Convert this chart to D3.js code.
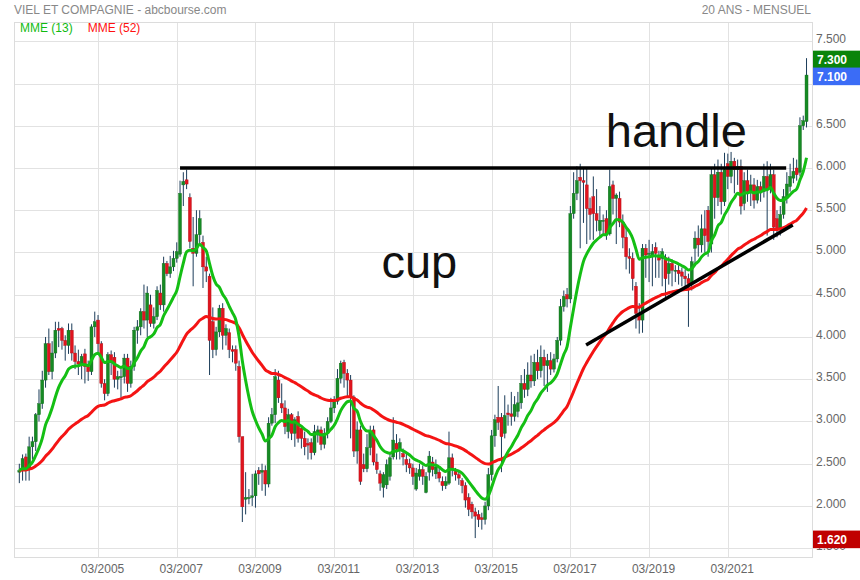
<!DOCTYPE html>
<html><head><meta charset="utf-8">
<script src="https://cdn.jsdelivr.net/npm/d3@7"></script>
<style>
body{margin:0;background:#fff}
svg{display:block}
text{font-family:"Liberation Sans",Arial,Helvetica,sans-serif}
</style>
</head><body>
<svg id="chart" width="860" height="580"></svg>
<script>
const title = "VIEL ET COMPAGNIE - abcbourse.com";
const period = "20 ANS - MENSUEL";
const firstMonth = {year: 2003, month: 3};
const xTickLabels = ["03/2005","03/2007","03/2009","03/2011","03/2013","03/2015","03/2017","03/2019","03/2021"];
const yTicks = [1.5,2,2.5,3,3.5,4,4.5,5,5.5,6,6.5,7,7.5];
const emaSeries = [{name:"MME (13)", period:13, color:"#14bf14", text:"#11bb11"},{name:"MME (52)", period:52, color:"#f41414", text:"#ff1010"}];

const opens = [
2.40,2.42,2.58,2.44,2.70,2.76,3.08,3.21,3.49,3.92,
3.59,3.81,4.10,4.10,3.96,3.90,4.08,3.81,3.71,3.68,
3.80,3.65,3.59,4.12,4.20,3.92,3.45,3.33,3.79,3.76,
3.50,3.53,3.53,3.75,3.45,3.65,4.08,4.12,4.30,4.20,
4.38,4.16,4.24,4.52,4.38,4.87,4.75,4.83,4.93,4.98,
5.80,5.86,5.65,5.05,4.99,5.21,5.12,4.83,4.72,4.18,
3.85,4.06,4.34,4.02,4.05,3.85,3.85,3.65,2.82,2.08,
2.10,2.10,2.12,2.42,2.40,2.42,2.26,2.98,3.08,3.49,
3.21,3.16,2.88,3.08,2.86,3.06,2.92,2.80,2.74,2.75,
2.63,2.84,2.90,2.73,2.86,3.00,3.16,3.24,3.51,3.70,
3.57,3.49,3.29,2.65,2.90,2.49,2.44,2.69,2.90,2.52,
2.38,2.22,2.25,2.35,2.58,2.74,2.67,2.62,2.55,2.50,
2.45,2.20,2.35,2.43,2.16,2.40,2.52,2.38,2.40,2.29,
2.24,2.27,2.57,2.41,2.37,2.30,2.24,2.10,2.02,1.93,
1.90,1.86,1.84,2.00,2.37,2.83,3.05,3.05,2.86,3.10,
3.09,3.06,3.12,3.22,3.45,3.38,3.55,3.48,3.70,3.60,
3.76,3.66,3.72,3.62,3.74,3.96,4.36,4.50,4.45,5.46,
5.70,5.89,5.85,5.80,5.52,5.66,5.46,5.26,5.38,5.40,
5.22,5.80,5.64,5.64,5.36,5.18,4.95,4.93,4.60,4.28,
4.20,5.05,4.99,4.95,5.06,4.97,4.93,4.94,4.75,4.87,
4.79,4.79,4.77,4.72,4.69,4.63,5.05,5.17,5.09,5.28,
5.50,5.10,5.92,5.65,5.95,5.60,6.05,5.90,6.08,5.98,
6.02,5.58,5.85,5.72,5.80,5.62,5.78,5.72,5.90,5.75,
5.92,5.40,5.28,5.45,5.64,5.78,5.88,6.00,5.95,6.50,
6.55];
const highs = [
2.50,2.61,2.62,2.82,2.82,3.10,3.38,3.60,4.00,4.10,
3.95,4.18,4.18,4.12,4.02,4.16,4.16,3.90,3.85,3.80,
3.86,3.72,4.15,4.30,4.26,3.95,3.50,3.82,3.84,3.82,
3.60,3.62,3.80,3.80,3.72,4.12,4.20,4.34,4.62,4.60,
4.50,4.35,4.60,4.62,4.95,4.90,4.96,5.02,5.12,5.85,
5.95,5.98,5.70,5.42,5.50,5.50,5.20,4.95,4.75,4.35,
4.12,4.38,4.40,4.15,4.10,3.90,3.90,3.72,2.82,2.40,
2.20,2.38,2.42,2.46,2.50,2.48,3.05,3.16,3.62,3.60,
3.45,3.25,3.15,3.10,3.05,3.12,2.95,2.88,2.80,2.80,
2.96,2.95,2.94,2.92,3.05,3.28,3.30,3.62,3.72,3.73,
3.62,3.55,3.31,3.00,2.95,2.62,2.85,2.95,2.95,2.62,
2.42,2.40,2.55,2.62,3.05,2.85,2.80,2.68,2.62,2.56,
2.50,2.45,2.50,2.48,2.40,2.65,2.58,2.55,2.45,2.35,
2.35,2.88,2.62,2.45,2.42,2.33,2.28,2.15,2.05,1.98,
1.95,1.92,2.05,2.45,2.90,3.08,3.42,3.10,3.31,3.20,
3.35,3.30,3.35,3.55,3.62,3.70,3.78,3.80,3.85,3.90,
3.85,3.80,3.82,3.80,4.00,4.45,4.55,4.58,5.55,5.95,
6.02,6.05,6.00,6.00,5.65,5.90,5.75,5.55,5.45,5.50,
5.98,5.85,5.70,5.72,5.45,5.30,5.05,5.00,4.65,4.40,
5.10,5.10,5.15,5.10,5.12,5.02,5.05,4.98,4.95,4.92,
4.85,4.85,4.82,4.80,4.75,4.95,5.25,5.32,5.45,5.50,
5.55,6.00,6.05,6.10,6.05,6.18,6.17,6.19,6.12,6.10,
6.10,5.95,5.98,5.92,5.88,5.86,5.84,6.05,6.08,6.05,
5.98,5.50,5.55,5.75,5.95,6.05,6.12,6.10,6.60,6.62,
7.30];
const lows = [
2.27,2.30,2.30,2.30,2.55,2.65,3.00,3.15,3.40,3.55,
3.50,3.75,3.88,3.85,3.72,3.80,3.72,3.62,3.55,3.50,
3.45,3.48,3.55,4.00,3.80,3.40,3.25,3.30,3.55,3.40,
3.38,3.28,3.45,3.35,3.40,3.60,3.92,4.02,4.10,4.00,
4.12,4.10,4.20,4.32,4.30,4.72,4.70,4.78,4.88,4.95,
5.55,5.75,5.05,4.60,4.95,5.10,4.58,4.65,3.55,3.75,
3.78,4.00,3.85,3.90,3.75,3.70,3.60,2.75,1.81,1.90,
2.02,2.00,1.98,2.25,2.18,2.12,2.22,2.95,2.98,3.22,
3.10,2.85,2.80,2.78,2.70,2.75,2.68,2.60,2.55,2.55,
2.60,2.75,2.66,2.68,2.80,2.98,3.10,3.20,3.45,3.40,
3.30,2.80,2.58,2.50,2.25,2.40,2.40,2.60,2.48,2.38,
2.18,2.10,2.20,2.30,2.55,2.55,2.55,2.48,2.40,2.38,
2.25,2.18,2.30,2.25,2.15,2.30,2.35,2.32,2.28,2.18,
2.20,2.25,2.35,2.30,2.25,2.15,1.98,1.88,1.85,1.62,
1.75,1.72,1.78,1.95,2.30,2.70,2.90,2.40,2.80,2.95,
2.95,3.00,3.05,3.15,3.28,3.30,3.40,3.42,3.50,3.52,
3.42,3.35,3.55,3.58,3.70,3.90,4.30,4.35,4.40,5.40,
5.62,5.05,5.35,5.10,5.15,5.15,5.25,5.18,5.20,5.15,
5.20,5.45,5.10,5.30,5.05,4.80,4.75,4.55,4.10,4.04,
4.05,4.70,4.65,4.60,4.70,4.70,4.60,4.45,4.62,4.60,
4.65,4.62,4.60,4.55,4.12,4.55,4.85,4.95,5.00,5.00,
4.95,5.00,5.40,5.55,5.45,5.55,5.75,5.82,5.70,5.80,
5.45,5.50,5.60,5.55,5.52,5.58,5.60,5.65,5.20,5.70,
5.15,5.18,5.20,5.40,5.58,5.72,5.82,5.85,5.90,6.45,
6.48];
const closes = [
2.42,2.56,2.44,2.70,2.76,3.08,3.21,3.49,3.92,3.59,
3.81,4.08,4.08,3.96,3.90,4.08,3.81,3.71,3.68,3.77,
3.65,3.59,4.12,4.18,3.92,3.45,3.33,3.79,3.71,3.50,
3.53,3.53,3.75,3.45,3.65,4.08,4.12,4.30,4.20,4.52,
4.16,4.24,4.55,4.38,4.87,4.75,4.83,4.93,5.01,5.70,
5.84,5.81,5.13,4.99,5.21,5.40,4.83,4.78,3.96,3.85,
4.06,4.34,4.02,4.10,3.85,3.83,3.69,2.82,1.99,2.10,
2.10,2.12,2.38,2.38,2.42,2.26,2.98,3.08,3.53,3.28,
3.16,2.94,3.08,2.86,3.02,2.80,2.80,2.70,2.72,2.63,
2.88,2.90,2.73,2.86,3.00,3.16,3.24,3.51,3.69,3.57,
3.49,3.29,2.65,2.90,2.29,2.44,2.69,2.88,2.52,2.43,
2.27,2.37,2.49,2.57,2.78,2.67,2.75,2.58,2.49,2.45,
2.35,2.39,2.43,2.35,2.35,2.59,2.43,2.46,2.33,2.24,
2.29,2.57,2.45,2.37,2.33,2.24,2.07,1.96,1.93,1.88,
1.84,1.84,2.00,2.37,2.83,3.02,2.99,2.82,3.07,3.08,
3.06,3.20,3.22,3.45,3.38,3.55,3.48,3.70,3.60,3.76,
3.66,3.72,3.62,3.74,3.96,4.36,4.48,4.45,5.46,5.70,
5.85,5.85,5.83,5.52,5.45,5.46,5.38,5.38,5.38,5.22,
5.78,5.64,5.68,5.36,5.18,4.95,4.93,4.69,4.28,4.20,
5.05,4.97,4.99,5.01,4.99,4.91,5.01,4.69,4.87,4.79,
4.79,4.75,4.72,4.69,4.63,4.89,5.17,5.09,5.28,5.20,
5.13,5.92,5.65,5.95,5.60,5.98,5.90,6.08,5.98,6.02,
5.55,5.85,5.72,5.80,5.62,5.78,5.72,5.90,5.75,5.92,
5.30,5.28,5.45,5.66,5.81,5.90,5.96,5.92,6.50,6.56,
7.10];

// annotations in data space (month index, price)
const annotLines = [
  {m0: 49.0, v0: 6.0, m1: 233.8, v1: 6.0},
  {m0: 172.8, v0: 3.905, m1: 235.8, v1: 5.325}
];
const annotTexts = [
  {text: "cup", m: 110.4, v: 4.70},
  {text: "handle", m: 178.8, v: 6.245}
];

const svg = d3.select("#chart");
const L = 14, R = 812, T = 22, B = 557;
const x = d3.scaleLinear().domain([-1.62, 241.67]).range([L, R]);
const y = d3.scaleLinear().domain([1.396, 7.728]).range([B, T]);

const monthIndex = s => { const [mm, yy] = s.split("/").map(Number); return (yy - firstMonth.year) * 12 + (mm - firstMonth.month); };
const tickIdx = xTickLabels.map(monthIndex);

// grid
const g = svg.append("g");
g.selectAll("line.h").data(yTicks).join("line")
  .attr("x1", L).attr("x2", R).attr("y1", d => Math.round(y(d)) + 0.5).attr("y2", d => Math.round(y(d)) + 0.5)
  .attr("stroke", "#e2e2e2");
g.selectAll("line.v").data(tickIdx).join("line")
  .attr("y1", T).attr("y2", B).attr("x1", d => Math.round(x(d)) + 0.5).attr("x2", d => Math.round(x(d)) + 0.5)
  .attr("stroke", "#e2e2e2");
svg.append("rect").attr("x", L + 0.5).attr("y", T + 0.5).attr("width", R - L).attr("height", B - T)
  .attr("fill", "none").attr("stroke", "#dcdcdc");

// axes
const yAxis = d3.axisRight(y).tickValues(yTicks).tickFormat(d3.format(".3f")).tickSize(0).tickPadding(0);
const ya = svg.append("g").attr("transform", `translate(${R + 4},0)`).call(yAxis);
ya.select(".domain").remove();
ya.selectAll("text").attr("font-size", 12).attr("fill", "#666").attr("dy", "0.12em")
  .attr("font-family", '"Liberation Sans",Arial,sans-serif');

const xAxis = d3.axisBottom(x).tickValues(tickIdx).tickFormat((d, i) => xTickLabels[i]).tickSize(0).tickPadding(0);
const xa = svg.append("g").attr("transform", `translate(4,${B + 7})`).call(xAxis);
xa.select(".domain").remove();
xa.selectAll("text").attr("font-size", 12).attr("fill", "#666")
  .attr("font-family", '"Liberation Sans",Arial,sans-serif');

// candles
const data = closes.map((c, i) => ({i, o: opens[i], h: highs[i], l: lows[i], c}));
const cg = svg.append("g");
cg.selectAll("line.w").data(data).join("line")
  .attr("x1", d => x(d.i)).attr("x2", d => x(d.i))
  .attr("y1", d => y(d.h)).attr("y2", d => y(d.l))
  .attr("stroke", "#1c3d5a").attr("stroke-width", 1);
cg.selectAll("rect").data(data).join("rect")
  .attr("x", d => x(d.i) - 1.5).attr("width", 3)
  .attr("y", d => y(Math.max(d.o, d.c)))
  .attr("height", d => Math.max(1, Math.abs(y(d.o) - y(d.c))))
  .attr("fill", d => d.c >= d.o ? "#168a24" : "#e0141e")
  .attr("stroke", d => d.c >= d.o ? "#0f6a1a" : "#b00e16").attr("stroke-width", 0.4);

// moving averages (exponential, seeded with the first close)
function ema(vals, n) {
  const k = 2 / (n + 1); const out = []; let e = vals[0];
  vals.forEach((v, i) => { e = i === 0 ? v : e + k * (v - e); out.push(e); });
  return out;
}
const line = d3.line().x((d, i) => x(i)).y(d => y(d)).curve(d3.curveMonotoneX);
emaSeries.slice().reverse().forEach(s => {
  svg.append("path").attr("d", line(ema(closes, s.period)))
    .attr("fill", "none").attr("stroke", s.color).attr("stroke-width", 3).attr("stroke-linejoin", "round");
});

// annotations
svg.selectAll("line.an").data(annotLines).join("line")
  .attr("x1", d => x(d.m0)).attr("y1", d => y(d.v0)).attr("x2", d => x(d.m1)).attr("y2", d => y(d.v1))
  .attr("stroke", "#000").attr("stroke-width", 3.5);
svg.selectAll("text.an").data(annotTexts).join("text")
  .attr("x", d => x(d.m)).attr("y", d => y(d.v)).text(d => d.text)
  .attr("font-size", 47).attr("fill", "#111");

// header
svg.append("text").attr("x", 14).attr("y", 13.5).text(title).attr("font-size", 12).attr("fill", "#888");
svg.append("text").attr("x", 811).attr("y", 13.5).attr("text-anchor", "end").text(period).attr("font-size", 12).attr("fill", "#888");
let lx = 20;
emaSeries.forEach(s => {
  const t = svg.append("text").attr("x", lx).attr("y", 32).text(s.name).attr("font-size", 12).attr("fill", s.text);
  lx += t.node().getComputedTextLength() + 15;
});

// value boxes
const last = closes.length - 1;
const boxes = [
  {v: d3.max(highs), color: "#0a840a"},
  {v: closes[last], color: "#3b6cf6"},
  {v: d3.min(lows), color: "#c00000"}
];
boxes.forEach(b => {
  const cy = y(b.v);
  svg.append("rect").attr("x", R + 1).attr("y", cy - 7.5).attr("width", 860 - R - 1).attr("height", 17.6).attr("fill", b.color);
  svg.append("text").attr("x", R + 5).attr("y", cy + 5.5).text(d3.format(".3f")(b.v))
    .attr("font-size", 12).attr("font-weight", "bold").attr("fill", "#fff");
});
</script>
</body></html>
